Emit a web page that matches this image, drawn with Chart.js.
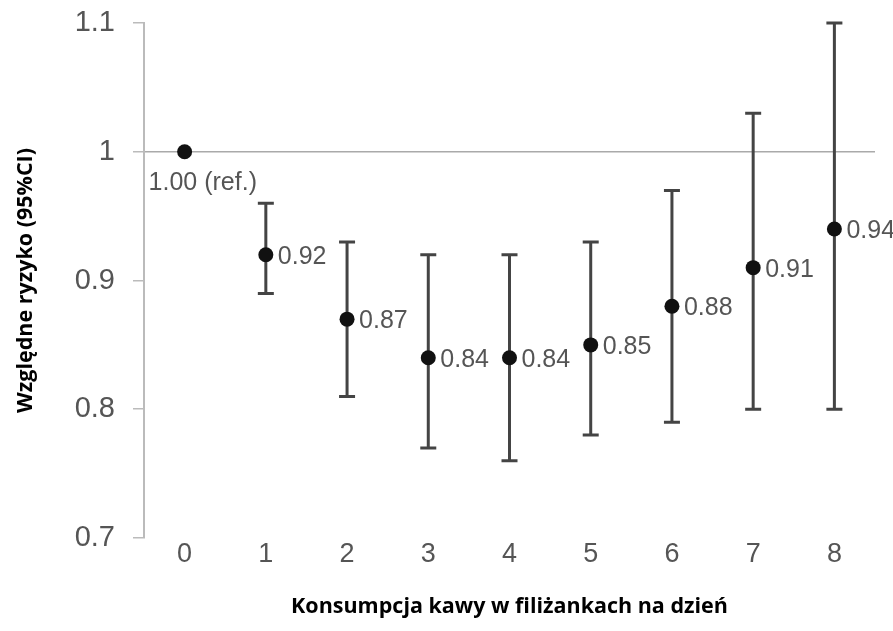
<!DOCTYPE html>
<html>
<head>
<meta charset="utf-8">
<script src="https://cdn.jsdelivr.net/npm/chart.js@4"></script>
<style>
  html, body { margin: 0; padding: 0; background: #fff; }
  #wrap { width: 893px; height: 631px; }
</style>
</head>
<body>
<div id="wrap"><canvas id="rrChart"></canvas></div>
<script>
// cups of coffee per day
const cups = ["0", "1", "2", "3", "4", "5", "6", "7", "8"];
// relative risk and 95% CI
const rr = [1.00, 0.92, 0.87, 0.84, 0.84, 0.85, 0.88, 0.91, 0.94];
const ciLow = [null, 0.89, 0.81, 0.77, 0.76, 0.78, 0.79, 0.80, 0.80];
const ciHigh = [null, 0.96, 0.93, 0.92, 0.92, 0.93, 0.97, 1.03, 1.10];
const yTicks = [0.7, 0.8, 0.9, 1, 1.1];

const pointLabels = rr.map((v, i) => i === 0 ? v.toFixed(2) + " (ref.)" : v.toFixed(2));

const errorBars = {
  id: "errorBars",
  beforeDatasetsDraw(chart) {
    const ctx = chart.ctx;
    const x = chart.scales.x, y = chart.scales.y;
    ctx.save();
    ctx.strokeStyle = "#444";
    ctx.lineWidth = 3;
    cups.forEach((c, i) => {
      if (ciLow[i] == null) return;
      const px = x.getPixelForValue(i);
      const top = y.getPixelForValue(ciHigh[i]);
      const bot = y.getPixelForValue(ciLow[i]);
      ctx.beginPath();
      ctx.moveTo(px, top); ctx.lineTo(px, bot);
      ctx.moveTo(px - 8, top); ctx.lineTo(px + 8, top);
      ctx.moveTo(px - 8, bot); ctx.lineTo(px + 8, bot);
      ctx.stroke();
    });
    ctx.restore();
  },
  afterDatasetsDraw(chart) {
    const ctx = chart.ctx;
    const x = chart.scales.x, y = chart.scales.y;
    ctx.save();
    ctx.fillStyle = "#555";
    ctx.font = "25px 'Liberation Sans', Arial, sans-serif";
    ctx.textBaseline = "middle";
    ctx.textAlign = "left";
    pointLabels.forEach((t, i) => {
      const px = x.getPixelForValue(i);
      const py = y.getPixelForValue(rr[i]);
      if (i === 0) {
        ctx.fillText(t, px - 36, py + 31);
      } else {
        ctx.fillText(t, px + 12, py + 2);
      }
    });
    ctx.restore();
  }
};

new Chart(document.getElementById("rrChart"), {
  type: "line",
  data: {
    labels: cups,
    datasets: [{
      data: rr,
      showLine: false,
      pointRadius: 7.5,
      pointBackgroundColor: "#111",
      pointBorderColor: "#111",
      pointBorderWidth: 0
    }]
  },
  options: {
    responsive: true,
    maintainAspectRatio: false,
    animation: false,
    layout: { padding: { top: 23, right: 18, left: 0, bottom: 0 } },
    plugins: { legend: { display: false }, tooltip: { enabled: false } },
    scales: {
      x: {
        type: "category",
        offset: true,
        grid: { display: false, drawTicks: false },
        border: { display: false },
        ticks: {
          color: "#555",
          padding: 0,
          font: { family: "'Liberation Sans', Arial, sans-serif", size: 27 }
        },
        title: {
          display: true,
          text: "Konsumpcja kawy w filiżankach na dzień",
          color: "#000",
          padding: 11,
          font: { family: "'Open Sans', sans-serif", size: 21.5, weight: "bold" }
        },
        afterFit(scale) { scale.height = 93; }
      },
      y: {
        min: 0.7,
        max: 1.1,
        afterBuildTicks(scale) { scale.ticks = yTicks.map(v => ({ value: v })); },
        grid: {
          color: ctx => Math.abs(ctx.tick.value - 1) < 1e-6 ? "#aaa" : "rgba(0,0,0,0)",
          lineWidth: 1.5,
          tickColor: "#bbb",
          tickLength: 11
        },
        border: { color: "#bbb", width: 2 },
        ticks: {
          color: "#555",
          padding: 18,
          font: { family: "'Liberation Sans', Arial, sans-serif", size: 29 },
          callback: v => String(Math.round(v * 10) / 10)
        },
        title: {
          display: true,
          text: "Względne ryzyko (95%CI)",
          color: "#000",
          padding: 13,
          font: { family: "'Open Sans', sans-serif", size: 21.5, weight: "bold" }
        },
        afterFit(scale) {
          scale.width = 144;
          scale.paddingTop = 0;
          scale.paddingBottom = 0;
        }
      }
    }
  },
  plugins: [errorBars]
});
</script>
</body>
</html>
